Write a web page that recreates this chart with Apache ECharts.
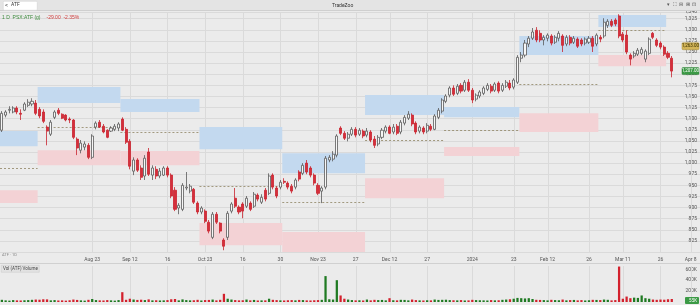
<!DOCTYPE html>
<html><head><meta charset="utf-8">
<script src="https://cdn.jsdelivr.net/npm/echarts@6/dist/echarts.min.js"></script>
<style>html,body{margin:0;padding:0;background:#ebebeb}#c{width:700px;height:305px}</style>
</head><body><div id="c"></div><script>
// [open, close, low, high]
const ohlc = [
[1074,1112,1070,1117],[1108,1115,1103,1119],[1119,1121,1112,1128],[1115,1124,1112,1128],[1124,1115,1110,1128],
[1112,1110,1097,1121],[1119,1133,1117,1137],[1130,1137,1126,1144],[1133,1139,1128,1146],[1135,1112,1108,1142],
[1121,1106,1101,1126],[1115,1094,1090,1121],[1081,1072,1040,1085],[1065,1092,1061,1097],[1103,1115,1099,1119],
[1119,1112,1108,1124],[1110,1101,1099,1112],[1108,1097,1094,1110],[1099,1097,1090,1103],[1097,1058,1054,1099],
[1054,1034,1018,1058],[1029,1045,1022,1052],[1036,1043,1029,1049],[1040,1013,1009,1045],[1013,1061,1009,1065],
[1081,1090,1076,1094],[1092,1081,1079,1097],[1083,1070,1067,1088],[1074,1058,1056,1076],[1072,1079,1070,1083],
[1076,1083,1072,1088],[1079,1088,1072,1092],[1099,1074,1072,1103],[1076,1047,1043,1081],[1049,993,986,1054],
[982,1007,973,1013],[1007,984,980,1011],[989,968,962,995],[971,1011,962,1018],[1025,975,971,1034],
[973,989,962,995],[986,971,964,993],[971,982,966,989],[973,989,971,993],[989,973,968,993],
[973,926,921,977],[939,896,892,946],[899,905,885,910],[896,950,892,955],[944,946,939,980],
[937,948,932,953],[941,912,908,944],[910,890,885,914],[890,899,885,903],[892,869,865,896],
[867,847,842,872],[833,885,829,890],[885,867,863,890],[865,847,842,867],[827,813,804,831],
[833,887,827,892],[892,908,887,912],[921,903,899,944],[901,890,885,905],[908,892,876,912],
[903,921,899,926],[910,896,892,914],[903,930,899,935],[928,919,914,932],[912,923,908,930],
[939,919,914,944],[932,971,928,977],[973,946,941,977],[944,926,921,948],[946,957,941,962],
[959,957,953,966],[955,946,941,959],[948,937,932,953],[946,962,941,966],[980,964,959,984],
[977,995,973,1000],[1000,980,975,1007],[989,973,968,993],[973,955,950,977],[950,932,928,955],
[937,944,910,948],[946,1011,941,1016],[1007,1013,1002,1018],[1009,1020,1004,1027],[1018,1061,1013,1065],
[1079,1067,1063,1083],[1067,1056,1052,1072],[1056,1065,1049,1070],[1065,1076,1061,1081],[1076,1063,1058,1081],
[1065,1074,1061,1079],[1072,1061,1056,1076],[1063,1072,1058,1079],[1070,1052,1047,1074],[1054,1040,1034,1061],
[1043,1058,1038,1063],[1058,1074,1054,1079],[1072,1081,1067,1085],[1081,1067,1065,1085],[1070,1081,1065,1088],
[1083,1067,1063,1088],[1070,1092,1065,1097],[1090,1103,1085,1108],[1101,1110,1097,1117],[1108,1088,1083,1112],
[1090,1070,1065,1094],[1072,1081,1067,1085],[1079,1070,1065,1083],[1072,1085,1067,1090],[1083,1076,1072,1088],
[1076,1106,1074,1110],[1103,1119,1099,1124],[1117,1142,1112,1146],[1139,1151,1135,1155],[1153,1169,1148,1173],
[1169,1155,1151,1175],[1157,1173,1153,1178],[1175,1162,1157,1180],[1164,1182,1160,1187],[1182,1164,1160,1189],
[1164,1142,1135,1169],[1144,1153,1139,1157],[1151,1160,1146,1164],[1157,1169,1153,1173],[1166,1175,1162,1180],
[1173,1162,1157,1178],[1164,1178,1160,1182],[1180,1162,1157,1184],[1164,1175,1160,1180],[1173,1182,1169,1187],
[1180,1169,1164,1187],[1171,1187,1166,1191],[1182,1238,1178,1243],[1236,1243,1227,1250],[1243,1270,1238,1277],
[1268,1281,1261,1286],[1281,1295,1277,1304],[1299,1277,1272,1306],[1292,1277,1272,1299],[1277,1283,1265,1288],
[1281,1288,1274,1292],[1286,1270,1265,1290],[1272,1283,1268,1288],[1281,1292,1274,1297],[1286,1265,1250,1290],
[1268,1283,1263,1288],[1283,1270,1265,1288],[1272,1281,1268,1286],[1279,1263,1259,1283],[1277,1268,1263,1281],
[1270,1279,1265,1283],[1272,1281,1268,1286],[1281,1263,1250,1286],[1268,1288,1263,1292],[1283,1279,1272,1288],
[1286,1317,1281,1326],[1310,1319,1304,1324],[1319,1310,1306,1324],[1322,1313,1308,1326],[1331,1286,1281,1335],
[1290,1277,1272,1295],[1288,1250,1245,1299],[1243,1234,1220,1247],[1241,1247,1236,1252],[1245,1254,1241,1259],
[1247,1256,1243,1261],[1234,1252,1227,1256],[1247,1279,1243,1283],[1292,1283,1279,1295],[1277,1265,1261,1281],
[1270,1261,1256,1274],[1261,1245,1241,1265],[1247,1238,1234,1252],[1236,1207,1193,1241]
];
const volumes = [
40,30,25,35,30,28,32,35,40,45, 42,50,48,30,35,28,30,25,32,45,
38,30,25,40,55,35,30,28,35,30, 25,35,180,40,60,45,38,42,35,48,
30,32,28,30,35,50,55,30,48,35, 30,32,40,28,35,38,45,30,40,150,
60,45,35,30,32,45,30,38,28,30, 30,60,40,35,30,28,32,35,30,38,
35,30,28,32,35,40,475,50,45,400, 120,60,45,35,30,32,28,45,30,40,
35,38,30,70,32,30,40,38,30,45, 35,30,28,32,30,45,38,40,42,35,
32,30,35,28,30,40,35,32,30,28, 35,30,32,40,45,50,60,75,70,65,
70,55,40,38,35,30,40,35,32,45, 30,35,38,30,35,28,32,40,38,35,
45,40,30,35,650,60,100,70,80,75, 120,70,60,45,40,45,42,50,55
];
const futureSlots = 7;
const tickIndex = [24,34,44,54,64,74,84,94,103,113,125,136,145,156,165,175,183];
const tickText = ['Aug 23','Sep 12','16','Oct 23','16','30','Nov 23','27','Dec 12','27','2024','23','Feb 12','26','Mar 11','26','Apr 8'];
// period [startIndex, endIndex]
const periods = [[0,9],[10,31],[32,52],[53,74],[75,96],[97,117],[118,137],[138,158],[159,176]];
const upperZone = [[1072,1038],[1171,1135],[1144,1115],[1081,1031],[1022,977],[1153,1108],[1126,1103],[1286,1243],[1333,1306]];
const lowerZone = [[939,910],[1029,995],[1027,995],[865,815],[845,800],[966,921],[1036,1016],[1112,1070],[1243,1218]];
const pivotLevel = [989,1081,1070,948,912,1052,1074,1178,1299];
const refLevel = 1263;
const lastVolume = '55K';

const N = ohlc.length + futureSlots;
const categories = Array.from({length:N},(_,i)=>String(i));
const candleData = categories.map((c,i)=> i < ohlc.length ? ohlc[i] : '-');
const volData = categories.map((c,i)=> i < volumes.length ? {
  value: volumes[i],
  itemStyle:{color: ohlc[i][1] >= ohlc[i][0] ? '#1f7a22' : '#d3212d'}
} : '-');
const upData = periods.map((p,k)=>[p[0],p[1],upperZone[k][0],upperZone[k][1]]);
const lowData = periods.map((p,k)=>[p[0],p[1],lowerZone[k][0],lowerZone[k][1]]);
const pivData = periods.map((p,k)=>[p[0],p[1],pivotLevel[k]]);
const lastClose = ohlc[ohlc.length-1][1];
const priceTags = [[refLevel, 0],[lastClose, 1]];
const fmt = v => v.toLocaleString('en-US');
const FONT = 'Roboto, "Liberation Sans", sans-serif';

function zoneItem(color){
  return function(params, api){
    const a = api.coord([api.value(0)-0.5, api.value(2)]);
    const b = api.coord([api.value(1)+0.5, api.value(3)]);
    return {type:'rect', shape:{x:a[0], y:a[1], width:b[0]-a[0], height:b[1]-a[1]}, style:{fill:color}};
  };
}
function pivotItem(params, api){
  const a = api.coord([api.value(0)-0.5, api.value(2)]);
  const b = api.coord([api.value(1)+0.5, api.value(2)]);
  return {type:'line', shape:{x1:a[0], y1:Math.round(a[1])+0.5, x2:b[0], y2:Math.round(a[1])+0.5},
    style:{stroke:'#8f8463', lineWidth:0.8, lineDash:[2,2]}};
}
function vGrid(params, api){
  const cs = params.coordSys;
  const x = Math.round(api.coord([api.value(0), 0])[0]) + 0.5;
  return {type:'line', shape:{x1:x, y1:cs.y, x2:x, y2:cs.y+cs.height}, style:{stroke:'#dadada', lineWidth:1}};
}
function tagItem(params, api){
  const cs = params.coordSys;
  const v = api.value(0), kind = api.value(1);
  const y = api.coord([0, v])[1];
  const w = 17, h = 7;
  const x = cs.x + cs.width - w - 1;
  return {type:'group', children:[
    {type:'rect', shape:{x:x, y:y-h/2, width:w, height:h, r:1},
     style:{fill: kind ? '#3b9a45' : '#d2b458', stroke: kind ? '#2b7a33' : '#a88f3c', lineWidth:0.5}},
    {type:'text', style:{x:x+w/2, y:y, text:fmt(v)+'.00', fontSize:4.5, fill: kind ? '#fff' : '#3a3000',
      align:'center', verticalAlign:'middle', fontFamily:FONT}}
  ]};
}

const chart = echarts.init(document.getElementById('c'), null, {renderer:'canvas'});
chart.setOption({
  animation:false,
  backgroundColor:'#ebebeb',
  textStyle:{fontFamily:FONT},
  grid:[
    {left:0, right:0, top:12, bottom:53},
    {left:0, right:0, top:266, bottom:3}
  ],
  xAxis:[
    {type:'category', gridIndex:0, data:categories, boundaryGap:true,
     axisLine:{show:false}, axisTick:{show:false}, splitLine:{show:false},
     axisLabel:{interval:(i)=>tickIndex.includes(i), formatter:(v,i)=>tickText[tickIndex.indexOf(Number(v))] || '',
       fontSize:5, color:'#555', margin:5, fontFamily:FONT}},
    {type:'value', gridIndex:0, min:-0.5, max:N-0.5, show:false},
    {type:'category', gridIndex:1, data:categories, boundaryGap:true, show:false},
    {type:'value', gridIndex:1, min:-0.5, max:N-0.5, show:false}
  ],
  yAxis:[
    {type:'value', gridIndex:0, position:'right', min:800, max:1340, interval:25,
     axisLine:{show:false}, axisTick:{show:false},
     splitLine:{lineStyle:{color:'#dadada', width:1}},
     axisLabel:{inside:true, fontSize:5, color:'#555', margin:3, showMinLabel:false, formatter:fmt, fontFamily:FONT}},
    {type:'value', gridIndex:1, position:'right', min:0, max:660, interval:200,
     axisLine:{show:false}, axisTick:{show:false}, splitLine:{show:false},
     axisLabel:{inside:true, fontSize:5, color:'#555', margin:3, showMinLabel:false,
       formatter:v=> v===0?'0': v+'K', fontFamily:FONT}}
  ],
  series:[
    {type:'custom', xAxisIndex:1, yAxisIndex:0, data:tickIndex.map(t=>[t]), renderItem:vGrid, silent:true, z:1},
    {type:'custom', xAxisIndex:3, yAxisIndex:1, data:tickIndex.map(t=>[t]), renderItem:vGrid, silent:true, z:1},
    {type:'custom', xAxisIndex:1, yAxisIndex:0, data:upData, renderItem:zoneItem('#c3d9ef'), silent:true, z:2},
    {type:'custom', xAxisIndex:1, yAxisIndex:0, data:lowData, renderItem:zoneItem('#f3d2d5'), silent:true, z:2},
    {type:'custom', xAxisIndex:1, yAxisIndex:0, data:pivData, renderItem:pivotItem, silent:true, z:3},
    {type:'candlestick', xAxisIndex:0, yAxisIndex:0, data:candleData, barWidth:'68%', z:5,
     itemStyle:{color:'#f6f6f6', color0:'#d52f3b', borderColor:'#5a5a5a', borderColor0:'#c9232f', borderWidth:0.8}},
    {type:'custom', xAxisIndex:1, yAxisIndex:0, data:priceTags, renderItem:tagItem, silent:true, z:20},
    {type:'bar', xAxisIndex:2, yAxisIndex:1, data:volData, barWidth:'60%', z:5}
  ],
  graphic:[
    {type:'rect', left:0, top:0, shape:{width:700, height:10}, style:{fill:'#e4e4e4'}, z:10},
    {type:'line', shape:{x1:0, y1:10.5, x2:700, y2:10.5}, style:{stroke:'#cfcfcf', lineWidth:1}, z:10},
    {type:'rect', left:3, top:1, shape:{width:34, height:9, r:1}, style:{fill:'#ffffff', stroke:'#cccccc', lineWidth:0.5}, z:11},
    {type:'text', left:5, top:2, style:{text:'<', fontSize:6, fill:'#333', fontFamily:FONT}, z:12},
    {type:'text', left:11, top:2.5, style:{text:'ATF', fontSize:5, fill:'#333', fontFamily:FONT}, z:12},
    {type:'text', left:332, top:3, style:{text:'TradeZoo', fontSize:5, fill:'#333', fontFamily:FONT}, z:12},
    {type:'text', right:4, top:2.5, style:{text:'▾  ⛶  ⊟  ⊞  ⊡', fontSize:5, fill:'#555', fontFamily:FONT}, z:12},
    {type:'text', left:2, top:12, style:{rich:{g:{fill:'#3d8b3d', fontSize:5}, r:{fill:'#d23b3b', fontSize:5}},
      text:'{g|1 D  PSX:ATF (g)}  {r|-29.00  -2.35%}', fontFamily:FONT}, z:12},
    {type:'text', left:2, top:253, style:{text:'ATF · 1D', fontSize:4, fill:'#888', fontFamily:FONT}, z:12},
    {type:'line', shape:{x1:0, y1:263.5, x2:700, y2:263.5}, style:{stroke:'#d0d0d0', lineWidth:1}, z:10},
    {type:'rect', left:1, top:265, shape:{width:38, height:7}, style:{fill:'#e2e2e2', stroke:'#c8c8c8', lineWidth:0.5}, z:11},
    {type:'text', left:3, top:266, style:{text:'Vol (ATF) Volume', fontSize:4.5, fill:'#444', fontFamily:FONT}, z:12},
    {type:'rect', right:1, top:297, shape:{width:14, height:7, r:1}, style:{fill:'#3b9a45'}, z:11},
    {type:'text', right:3, top:298, style:{text:lastVolume, fontSize:4.5, fill:'#fff', fontFamily:FONT}, z:12}
  ]
});
</script></body></html>
